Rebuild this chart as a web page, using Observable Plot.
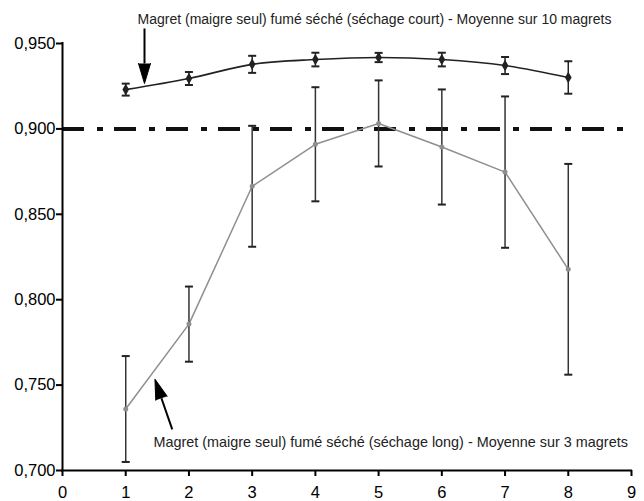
<!DOCTYPE html>
<html><head><meta charset="utf-8">
<script src="https://cdn.jsdelivr.net/npm/d3@7"></script>
<script src="https://cdn.jsdelivr.net/npm/@observablehq/plot@0.6"></script>
<style>body{margin:0;background:#fff}</style>
</head><body><div id="chart"></div>
<script>
// Data
const positions = [1, 2, 3, 4, 5, 6, 7, 8];
const courtMean = [0.9230, 0.9295, 0.9378, 0.9406, 0.9418, 0.9406, 0.9371, 0.9301];
const courtErr  = [0.0035, 0.0038, 0.0050, 0.0040, 0.0027, 0.0040, 0.0050, 0.0095];
const longMean  = [0.7360, 0.7857, 0.8664, 0.8910, 0.9032, 0.8894, 0.8747, 0.8178];
const longErr   = [0.0310, 0.0220, 0.0354, 0.0334, 0.0252, 0.0337, 0.0443, 0.0617];
const threshold = [0.900];
const xTicks = [0, 1, 2, 3, 4, 5, 6, 7, 8, 9];
const yTicks = [0.70, 0.75, 0.80, 0.85, 0.90, 0.95];

// Annotations (data coordinates)
const labelText = [
  "Magret (maigre seul) fumé séché (séchage court) - Moyenne sur 10 magrets",
  "Magret (maigre seul) fumé séché (séchage long) - Moyenne sur 3 magrets"
];
const labelX = [1.187, 1.44];
const labelY = [0.9612, 0.7140];
const labelSize = [14, 14.4];
const arrowTailX = [1.297, 1.736];
const arrowTailY = [0.9588, 0.7241];
const arrowBaseX = [1.297, 1.565];
const arrowBaseY = [0.9383, 0.7423];
const arrowAngle = [180, -19];

const court = positions.map((x, i) => ({x, y: courtMean[i], lo: courtMean[i] - courtErr[i], hi: courtMean[i] + courtErr[i]}));
const long = positions.map((x, i) => ({x, y: longMean[i], lo: longMean[i] - longErr[i], hi: longMean[i] + longErr[i]}));
const labels = labelText.map((t, i) => ({t, x: labelX[i], y: labelY[i], s: labelSize[i]}));
const arrows = arrowTailX.map((_, i) => ({x1: arrowTailX[i], y1: arrowTailY[i], x2: arrowBaseX[i], y2: arrowBaseY[i], a: arrowAngle[i]}));

const cap = {draw(ctx, size) { const r = Math.sqrt(size / Math.PI); ctx.moveTo(-r, 0); ctx.lineTo(r, 0); }};

const fmt = d => d3.format(".3f")(d).replace(".", ",");

const chart = Plot.plot({
  width: 644, height: 501,
  marginLeft: 62, marginRight: 13, marginTop: 43, marginBottom: 31,
  x: {domain: [0, 9]},
  y: {domain: [0.70, 0.95]},
  style: {fontFamily: "'Liberation Sans', Arial, sans-serif", background: "#fff", color: "#000"},
  marks: [
    Plot.ruleY(threshold, {x1: 0, x2: 9, stroke: "#111", strokeWidth: 4, strokeDasharray: "22,13,6,11"}),
    // long drying series
    Plot.line(long, {x: "x", y: "y", stroke: "#8f8f8f", strokeWidth: 1.5}),
    Plot.ruleX(long, {x: "x", y1: "lo", y2: "hi", stroke: "#333", strokeWidth: 1.5}),
    Plot.dot(long, {x: "x", y: "lo", symbol: cap, r: 4, stroke: "#222", strokeWidth: 2}),
    Plot.dot(long, {x: "x", y: "hi", symbol: cap, r: 4, stroke: "#222", strokeWidth: 2}),
    Plot.dot(long, {x: "x", y: "y", r: 2.5, fill: "#8f8f8f"}),
    // short drying series
    Plot.line(court, {x: "x", y: "y", stroke: "#222", strokeWidth: 1.6, curve: "catmull-rom"}),
    Plot.ruleX(court, {x: "x", y1: "lo", y2: "hi", stroke: "#222", strokeWidth: 1.5}),
    Plot.dot(court, {x: "x", y: "lo", symbol: cap, r: 4, stroke: "#222", strokeWidth: 2}),
    Plot.dot(court, {x: "x", y: "hi", symbol: cap, r: 4, stroke: "#222", strokeWidth: 2}),
    Plot.dot(court, {x: "x", y: "y", symbol: "diamond", r: 3.5, fill: "#222"}),
    // axes
    Plot.ruleX([0], {y1: 0.70, y2: 0.95, strokeWidth: 2, strokeLinecap: "square"}),
    Plot.ruleY([0.70], {x1: 0, x2: 9, strokeWidth: 2, strokeLinecap: "square"}),
    Plot.axisY(yTicks, {tickSize: 6, tickPadding: 1, tickFormat: fmt, fontSize: 16.5, strokeWidth: 2, label: null}),
    Plot.axisX(xTicks, {tickSize: 6, tickPadding: 10, fontSize: 16.5, strokeWidth: 2, label: null}),
    // annotations
    Plot.link(arrows, {x1: "x1", y1: "y1", x2: "x2", y2: "y2", stroke: "#000", strokeWidth: 2}),
    Plot.vector(arrows, {x: "x2", y: "y2", rotate: "a", length: 20, r: 6, shape: "spike", anchor: "start", fill: "#000", fillOpacity: 1, stroke: "#000", strokeWidth: 1}),
    Plot.text(labels.slice(0, 1), {x: "x", y: "y", text: "t", textAnchor: "start", lineAnchor: "bottom", fontSize: labelSize[0], fill: "#222"}),
    Plot.text(labels.slice(1), {x: "x", y: "y", text: "t", textAnchor: "start", lineAnchor: "bottom", fontSize: labelSize[1], fill: "#222"})
  ]
});
document.getElementById("chart").append(chart);
</script>
</body></html>
